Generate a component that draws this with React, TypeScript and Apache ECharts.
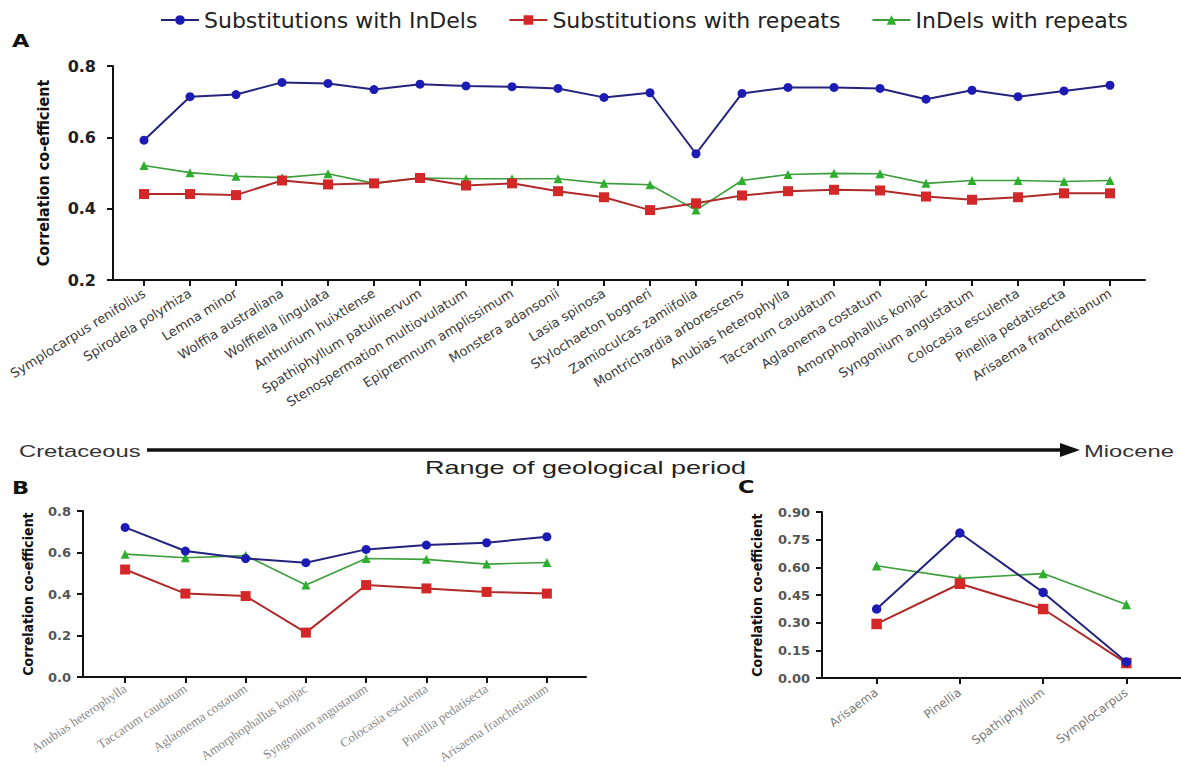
import React, { useEffect, useRef } from "react";
import * as echarts from "echarts";

const seriesNames = ["Substitutions with InDels", "Substitutions with repeats", "InDels with repeats"];

const catsA = [
  "Symplocarpus renifolius", "Spirodela polyrhiza", "Lemna minor", "Wolffia australiana",
  "Wolffiella lingulata", "Anthurium huixtlense", "Spathiphyllum patulinervum",
  "Stenospermation multiovulatum", "Epipremnum amplissimum", "Monstera adansonii",
  "Lasia spinosa", "Stylochaeton bogneri", "Zamioculcas zamiifolia", "Montrichardia arborescens",
  "Anubias heterophylla", "Taccarum caudatum", "Aglaonema costatum", "Amorphophallus konjac",
  "Syngonium angustatum", "Colocasia esculenta", "Pinellia pedatisecta", "Arisaema franchetianum",
];
const blueA = [0.592, 0.714, 0.72, 0.754, 0.751, 0.734, 0.749, 0.744, 0.742, 0.737, 0.712, 0.725, 0.554, 0.723, 0.74, 0.74, 0.737, 0.707, 0.732, 0.714, 0.73, 0.746];
const redA = [0.441, 0.441, 0.438, 0.479, 0.468, 0.471, 0.486, 0.465, 0.471, 0.449, 0.432, 0.396, 0.415, 0.437, 0.449, 0.453, 0.451, 0.434, 0.425, 0.432, 0.443, 0.443];
const greenA = [0.521, 0.501, 0.491, 0.487, 0.498, 0.471, 0.486, 0.484, 0.484, 0.484, 0.471, 0.467, 0.396, 0.479, 0.496, 0.499, 0.498, 0.471, 0.479, 0.479, 0.476, 0.479];

const catsB = [
  "Anubias heterophylla", "Taccarum caudatum", "Aglaonema costatum", "Amorphophallus konjac",
  "Syngonium angustatum", "Colocasia esculenta", "Pinellia pedatisecta", "Arisaema franchetianum",
];
const blueB = [0.721, 0.607, 0.571, 0.551, 0.615, 0.636, 0.647, 0.676];
const redB = [0.518, 0.402, 0.39, 0.214, 0.443, 0.427, 0.41, 0.402];
const greenB = [0.592, 0.575, 0.585, 0.443, 0.571, 0.567, 0.544, 0.552];

const catsC = ["Arisaema", "Pinellia", "Spathiphyllum", "Symplocarpus"];
const blueC = [0.374, 0.786, 0.464, 0.087];
const redC = [0.293, 0.511, 0.374, 0.081];
const greenC = [0.609, 0.54, 0.566, 0.398];

const ticksA = { min: 0.2, max: 0.8, interval: 0.2 };
const ticksB = { min: 0, max: 0.8, interval: 0.2 };
const ticksC = { min: 0, max: 0.9, interval: 0.15 };

const SANS = "'DejaVu Sans', sans-serif";
const NARROW = "'Liberation Sans Narrow', 'DejaVu Sans Condensed', sans-serif";

const styles = [
  { line: "#23237e", fill: "#1c1cb4", symbol: "circle", size: 9, width: 2, z: 5 },
  { line: "#b02a2a", fill: "#d42828", symbol: "rect", size: 10, width: 2, z: 4 },
  { line: "#3b9e3b", fill: "#2cb02c", symbol: "triangle", size: 9, width: 1.6, z: 3 },
];

function makeSeries(values: number[][], xi: number, yi: number, sizeScale = 1) {
  return values.map((vals, k) => ({
    name: seriesNames[k],
    type: "line",
    xAxisIndex: xi,
    yAxisIndex: yi,
    data: vals,
    symbol: styles[k].symbol,
    symbolSize: styles[k].size * sizeScale,
    z: styles[k].z,
    lineStyle: { color: styles[k].line, width: styles[k].width },
    itemStyle: { color: styles[k].fill },
  }));
}

function catAxis(grid: number, data: string[], rotate: number, fontSize: number, color: string, margin: number, family: string) {
  return {
    type: "category",
    gridIndex: grid,
    data,
    boundaryGap: true,
    axisLine: { show: false },
    axisTick: { show: true, alignWithLabel: true, length: 6, lineStyle: { color: "#111", width: 2 } },
    axisLabel: { interval: 0, rotate, fontSize, color, margin, fontFamily: family },
    splitLine: { show: false },
  };
}

function frameX(grid: number) {
  return {
    type: "value",
    gridIndex: grid,
    min: 0,
    max: 1,
    axisLine: { show: true, lineStyle: { color: "#111", width: 2 } },
    axisTick: { show: false },
    axisLabel: { show: false },
    splitLine: { show: false },
  };
}

function hiddenY(grid: number, t: { min: number; max: number; interval: number }) {
  return { type: "value", gridIndex: grid, min: t.min, max: t.max, show: false, splitLine: { show: false } };
}

function frameY(grid: number, t: { min: number; max: number; interval: number }, fontSize: number, color: string, nameGap: number, nameSize: number, digits: number, margin: number) {
  return {
    type: "value",
    gridIndex: grid,
    min: t.min,
    max: t.max,
    interval: t.interval,
    name: "Correlation co-efficient",
    nameLocation: "middle",
    nameGap,
    nameTextStyle: { fontFamily: NARROW, fontWeight: "bold", fontSize: nameSize, color: "#111" },
    axisLine: { show: true, lineStyle: { color: "#111", width: 2 } },
    axisTick: { show: true, length: 6, lineStyle: { color: "#111", width: 2 } },
    axisLabel: {
      fontFamily: SANS,
      fontWeight: "bold",
      fontSize,
      color,
      margin,
      formatter: (v: number) => v.toFixed(digits),
    },
    splitLine: { show: false },
  };
}

export default function App() {
  const ref = useRef<HTMLDivElement>(null);
  useEffect(() => {
    if (!ref.current) return;
    const chart = echarts.init(ref.current, null, { renderer: "svg" });
    const gridBase = { containLabel: false, outerBoundsMode: "none" };
    chart.setOption({
      animation: false,
      backgroundColor: "#ffffff",
      legend: {
        left: 155,
        top: 4,
        itemWidth: 38,
        itemHeight: 12,
        itemGap: 31,
        data: seriesNames,
        textStyle: { fontFamily: SANS, fontSize: 22, color: "#222" },
      },
      grid: [
        { ...gridBase, left: 121, top: 66, width: 1012, height: 214 },
        { ...gridBase, left: 113, top: 66, width: 1032, height: 214 },
        { ...gridBase, left: 95, top: 511, width: 482, height: 166 },
        { ...gridBase, left: 83, top: 511, width: 503, height: 166 },
        { ...gridBase, left: 835, top: 512, width: 333, height: 166 },
        { ...gridBase, left: 822, top: 512, width: 359, height: 166 },
      ],
      xAxis: [
        catAxis(0, catsA, 32, 13, "#3a3a3a", 12, SANS),
        frameX(1),
        catAxis(2, catsB, 34, 13, "#8a8a8a", 10, "'Liberation Serif', serif"),
        frameX(3),
        catAxis(4, catsC, 36, 12, "#7a7a7a", 13, SANS),
        frameX(5),
      ],
      yAxis: [
        hiddenY(0, ticksA),
        frameY(1, ticksA, 16, "#222", 62, 16, 1, 17),
        hiddenY(2, ticksB),
        frameY(3, ticksB, 13, "#555", 48, 14, 1, 12),
        hiddenY(4, ticksC),
        frameY(5, ticksC, 13, "#555", 58, 14, 2, 12),
      ],
      series: [
        ...makeSeries([blueA, redA, greenA], 0, 0),
        ...makeSeries([blueB, redB, greenB], 2, 2),
        ...makeSeries([blueC, redC, greenC], 4, 4, 1.05),
      ],
      graphic: [
        { type: "text", left: 12, top: 32, scaleX: 1.25, style: { text: "A", font: `bold 18px ${SANS}`, fill: "#111" } },
        { type: "text", left: 12, top: 479, scaleX: 1.25, style: { text: "B", font: `bold 18px ${SANS}`, fill: "#111" } },
        { type: "text", left: 738, top: 478, scaleX: 1.25, style: { text: "C", font: `bold 18px ${SANS}`, fill: "#111" } },
        {
          type: "text", x: 19, y: 451, scaleX: 1.4,
          style: { text: "Cretaceous", font: `17px 'Liberation Sans', Arial, sans-serif`, fill: "#333", textVerticalAlign: "middle", textAlign: "left" },
        },
        {
          type: "line",
          shape: { x1: 147, y1: 450, x2: 1066, y2: 450 },
          style: { stroke: "#111", lineWidth: 3.5 },
        },
        {
          type: "polygon",
          shape: { points: [[1060, 443], [1080, 450], [1060, 457]] },
          style: { fill: "#111" },
        },
        {
          type: "text", x: 1084, y: 451, scaleX: 1.4,
          style: { text: "Miocene", font: `17px 'Liberation Sans', Arial, sans-serif`, fill: "#333", textVerticalAlign: "middle", textAlign: "left" },
        },
        {
          type: "text", x: 425, y: 467, scaleX: 1.42,
          style: { text: "Range of geological period", font: `19px 'Liberation Sans', Arial, sans-serif`, fill: "#222", textVerticalAlign: "middle", textAlign: "left" },
        },
      ],
    });
    return () => chart.dispose();
  }, []);
  return (
    <div
      ref={ref}
      style={{ position: "fixed", left: 0, top: 0, width: 1181, height: 769, background: "#fff" }}
    />
  );
}
